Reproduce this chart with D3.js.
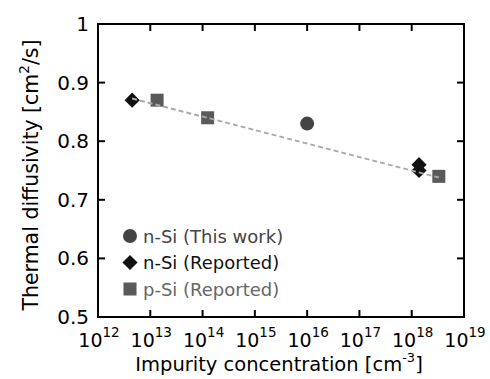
<!DOCTYPE html>
<html>
<head>
<meta charset="utf-8">
<script src="https://cdn.jsdelivr.net/npm/d3@7"></script>
<style>
  body { margin: 0; background: #fff; }
  text { font-family: "DejaVu Sans", sans-serif; }
</style>
</head>
<body>
<div id="chart"></div>
<script>
var xTicks = [12, 13, 14, 15, 16, 17, 18, 19];
var yTicks = [0.5, 0.6, 0.7, 0.8, 0.9, 1];

var thisWork = [{x: 1.0e16, y: 0.83}];
var nReported = [{x: 4.5e12, y: 0.87}, {x: 1.38e18, y: 0.76}, {x: 1.38e18, y: 0.75}];
var pReported = [{x: 1.35e13, y: 0.87}, {x: 1.25e14, y: 0.84}, {x: 3.3e18, y: 0.74}];
var fitLine = [{x: 4.5e12, y: 0.873}, {x: 3.3e18, y: 0.738}];

var legendNames = ["n-Si (This work)", "n-Si (Reported)", "p-Si (Reported)"];
var legendColors = ["#444", "#111", "#666"];

var svgWidth = 490, svgHeight = 379;
var margin = {top: 24, right: 26, bottom: 62, left: 98};
var width = svgWidth - margin.left - margin.right;
var height = svgHeight - margin.top - margin.bottom;

var svg = d3.select("#chart").append("svg")
  .attr("width", svgWidth)
  .attr("height", svgHeight);

var g = svg.append("g")
  .attr("transform", `translate(${margin.left},${margin.top})`);

var x = d3.scaleLog().domain([1e12, 1e19]).range([0, width]);
var y = d3.scaleLinear().domain([0.5, 1]).range([height, 0]);

// ticks on all four sides, pointing inward
var tickLen = 7;
xTicks.forEach(function(t) {
  var px = x(Math.pow(10, t));
  g.append("line").attr("x1", px).attr("x2", px).attr("y1", height).attr("y2", height - tickLen)
    .attr("stroke", "#000").attr("stroke-width", 2);
  g.append("line").attr("x1", px).attr("x2", px).attr("y1", 0).attr("y2", tickLen)
    .attr("stroke", "#000").attr("stroke-width", 2);
  var lab = g.append("text")
    .attr("x", px + 1)
    .attr("y", height + 30)
    .attr("text-anchor", "middle")
    .attr("font-size", 19)
    .attr("fill", "#000");
  lab.append("tspan").text("10");
  lab.append("tspan").attr("dy", -10).attr("font-size", 13.5).text(t);
});

yTicks.forEach(function(t) {
  var py = y(t);
  g.append("line").attr("x1", 0).attr("x2", tickLen).attr("y1", py).attr("y2", py)
    .attr("stroke", "#000").attr("stroke-width", 2);
  g.append("line").attr("x1", width).attr("x2", width - tickLen).attr("y1", py).attr("y2", py)
    .attr("stroke", "#000").attr("stroke-width", 2);
  g.append("text")
    .attr("x", -9)
    .attr("y", py + 7)
    .attr("text-anchor", "end")
    .attr("font-size", 20)
    .attr("fill", "#000")
    .text(t === 1 ? "1" : d3.format(".1f")(t));
});

g.append("rect")
  .attr("width", width).attr("height", height)
  .attr("fill", "none").attr("stroke", "#000").attr("stroke-width", 2);

// markers
var diamond = d3.symbol().type(d3.symbolSquare).size(115);

g.selectAll(".circ").data(thisWork).enter().append("circle")
  .attr("cx", d => x(d.x)).attr("cy", d => y(d.y))
  .attr("r", 7).attr("fill", "#444");

g.selectAll(".dia").data(nReported).enter().append("path")
  .attr("d", diamond)
  .attr("transform", d => `translate(${x(d.x)},${y(d.y)}) rotate(45)`)
  .attr("fill", "#111");

g.selectAll(".sq").data(pReported).enter().append("rect")
  .attr("x", d => x(d.x) - 6.5).attr("y", d => y(d.y) - 6.5)
  .attr("width", 13).attr("height", 13)
  .attr("fill", "#5a5a5a");

// dashed fit line on top
g.append("path")
  .datum(fitLine)
  .attr("d", d3.line().x(d => x(d.x)).y(d => y(d.y)))
  .attr("fill", "none")
  .attr("stroke", "#aaa")
  .attr("stroke-width", 2)
  .attr("stroke-dasharray", "5,3");

// legend
var legend = g.append("g").attr("transform", "translate(32, 212)");
legendNames.forEach(function(name, i) {
  var ly = i * 26.5;
  if (i === 0) {
    legend.append("circle").attr("cx", 0).attr("cy", ly).attr("r", 7).attr("fill", legendColors[i]);
  } else if (i === 1) {
    legend.append("path").attr("d", diamond)
      .attr("transform", `translate(0,${ly}) rotate(45)`).attr("fill", legendColors[i]);
  } else {
    legend.append("rect").attr("x", -6.5).attr("y", ly - 6.5).attr("width", 13).attr("height", 13)
      .attr("fill", "#5a5a5a");
  }
  legend.append("text")
    .attr("x", 13)
    .attr("y", ly + 6.5)
    .attr("font-size", 18)
    .attr("fill", legendColors[i])
    .text(name);
});

// axis titles
var xt = svg.append("text")
  .attr("x", 279)
  .attr("y", 371)
  .attr("text-anchor", "middle")
  .attr("font-size", 19.5)
  .attr("fill", "#000");
xt.append("tspan").text("Impurity concentration [cm");
xt.append("tspan").attr("dy", -9).attr("font-size", 13).text("-3");
xt.append("tspan").attr("dy", 9).text("]");

var yt = svg.append("text")
  .attr("transform", "translate(38, 175) rotate(-90)")
  .attr("text-anchor", "middle")
  .attr("font-size", 20.5)
  .attr("fill", "#000");
yt.append("tspan").text("Thermal diffusivity [cm");
yt.append("tspan").attr("dy", -9).attr("font-size", 13.5).text("2");
yt.append("tspan").attr("dy", 9).text("/s]");
</script>
</body>
</html>
